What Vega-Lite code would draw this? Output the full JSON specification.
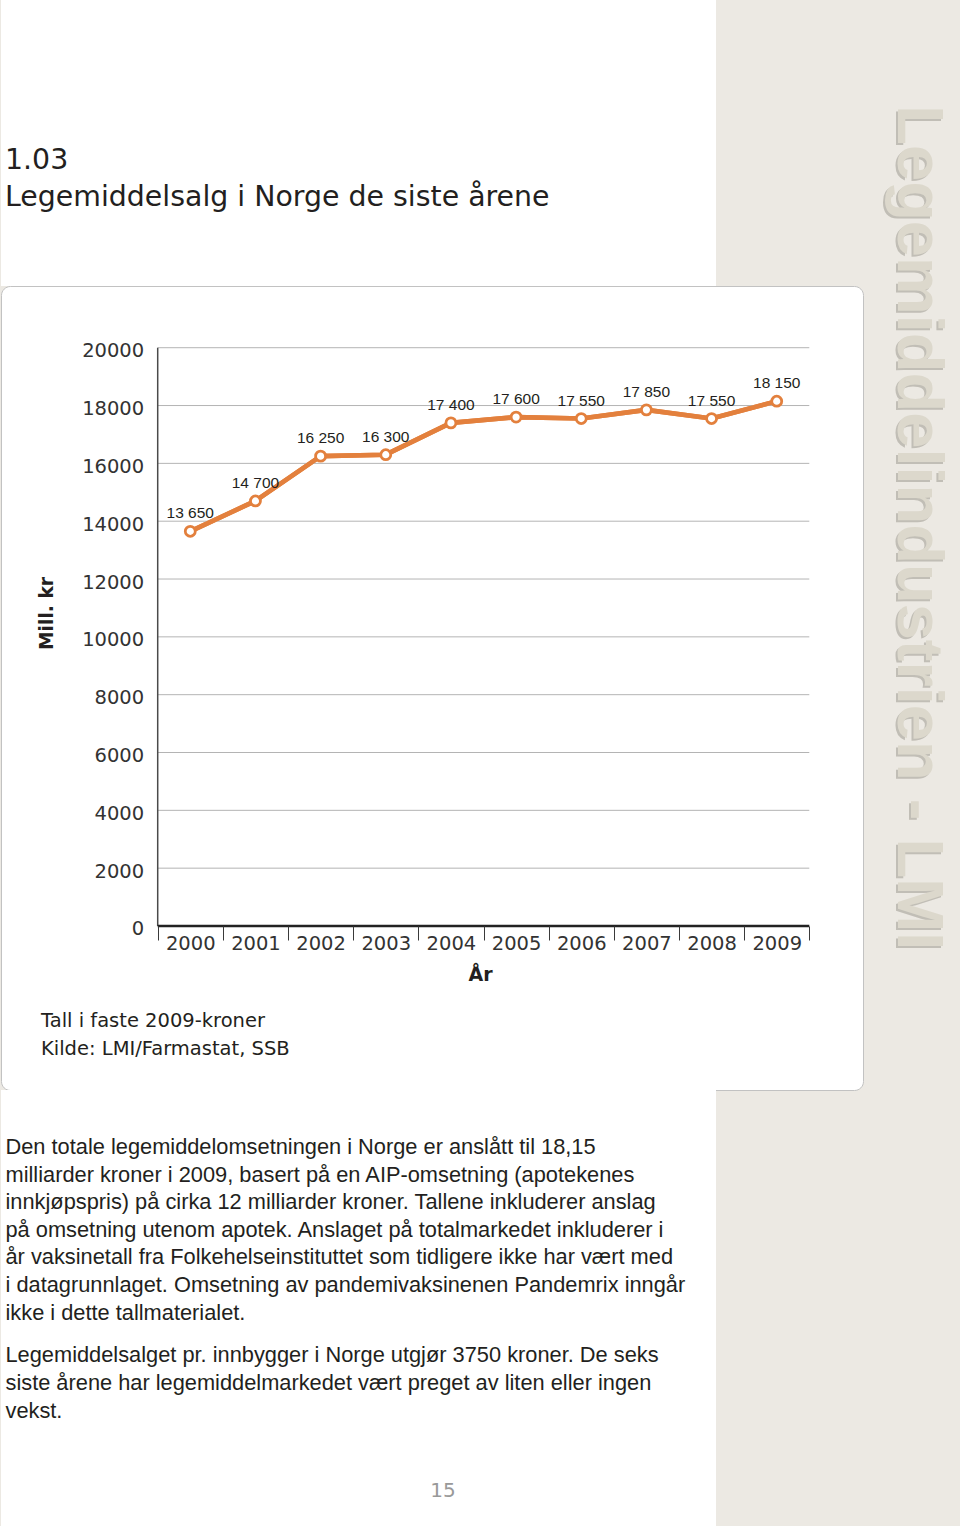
{
  "$schema": "https://vega.github.io/schema/vega-lite/v6.json",
  "background": "#ece9e3",
  "padding": {"left": 0, "top": 0, "right": 10, "bottom": 0},
  "spacing": 0,
  "bounds": "flush",
  "config": {"view": {"stroke": null}, "font": "DejaVu Sans"},
  "vconcat": [
    {
      "width": 715,
      "height": 286,
      "view": {"fill": "#ffffff", "stroke": null},
      "data": {"values": []},
      "mark": "point",
      "title": {
        "text": ["1.03", "Legemiddelsalg i Norge de siste årene"],
        "orient": "bottom", "anchor": "start", "frame": "group",
        "offset": -117, "dx": 4,
        "font": "DejaVu Sans", "fontSize": 28.4, "fontWeight": "normal",
        "color": "#231f20", "lineHeight": 37, "baseline": "alphabetic"
      }
    },
    {
      "width": 862,
      "height": 804,
      "view": {"fill": "#ffffff", "stroke": "#c2c2c2", "strokeWidth": 1, "cornerRadius": 9},
      "title": {
        "text": ["Tall i faste 2009-kroner", "Kilde: LMI/Farmastat, SSB"],
        "orient": "bottom", "anchor": "start", "frame": "group",
        "offset": -62.7, "dx": 40,
        "font": "DejaVu Sans", "fontSize": 19.5, "fontWeight": "normal",
        "color": "#231f20", "lineHeight": 27.7, "baseline": "alphabetic"
      },
      "data": {
        "values": [
          {"year": "2000", "value": 13650, "label": "13 650"},
          {"year": "2001", "value": 14700, "label": "14 700"},
          {"year": "2002", "value": 16250, "label": "16 250"},
          {"year": "2003", "value": 16300, "label": "16 300"},
          {"year": "2004", "value": 17400, "label": "17 400"},
          {"year": "2005", "value": 17600, "label": "17 600"},
          {"year": "2006", "value": 17550, "label": "17 550"},
          {"year": "2007", "value": 17850, "label": "17 850"},
          {"year": "2008", "value": 17550, "label": "17 550"},
          {"year": "2009", "value": 18150, "label": "18 150"}
        ]
      },
      "layer": [
        {
          "mark": {"type": "line", "color": "#e3803d", "strokeWidth": 4.6, "strokeCap": "round", "strokeJoin": "round"},
          "encoding": {
            "x": {
              "field": "year", "type": "ordinal",
              "scale": {"type": "band", "domain": ["2000","2001","2002","2003","2004","2005","2006","2007","2008","2009"], "paddingInner": 0, "paddingOuter": 0, "range": [156.7, 808.3]},
              "axis": {
                "title": "År", "orient": "bottom", "offset": -164, "zindex": 2,
                "domain": false, "grid": false, "ticks": true, "tickBand": "extent",
                "tickSize": 14, "tickColor": "#3a3a3a", "tickWidth": 1,
                "labelFont": "DejaVu Sans", "labelFontSize": 19.5, "labelColor": "#333333",
                "labelAngle": 0, "labelPadding": -6, "labelBaseline": "top",
                "titleFont": "DejaVu Sans", "titleFontWeight": "bold", "titleFontSize": 19,
                "titleColor": "#231f20", "titleX": 479, "titleY": 54,
                "titleBaseline": "alphabetic", "titleAlign": "center"
              }
            },
            "y": {
              "field": "value", "type": "quantitative",
              "scale": {"domain": [-5672, 22134], "nice": false, "zero": false},
              "axis": {
                "title": "Mill. kr", "orient": "left", "offset": -156.7, "zindex": 2,
                "values": [0, 2000, 4000, 6000, 8000, 10000, 12000, 14000, 16000, 18000, 20000],
                "format": "d",
                "domain": false, "ticks": false, "grid": false,
                "labelFont": "DejaVu Sans", "labelFontSize": 19.5, "labelColor": "#333333",
                "labelPadding": 14, "labelBaseline": "middle", "labelOffset": 3,
                "titleFont": "DejaVu Sans", "titleFontWeight": "bold", "titleFontSize": 18.7,
                "titleColor": "#231f20", "titleAngle": -90, "titleX": -111.7, "titleY": 327,
                "titleAlign": "center", "titleBaseline": "middle"
              }
            }
          }
        },
        {
          "data": {"values": [{"t": "Legemiddelindustrien - LMI"}]},
          "mark": {"type": "text", "angle": 90, "align": "left", "baseline": "alphabetic",
                   "font": "Liberation Sans", "fontWeight": "bold", "fontSize": 65,
                   "fill": "#8f8b80", "opacity": 0.45, "dx": -580.7, "dy": -464},
          "encoding": {"text": {"field": "t"}}
        },
        {
          "data": {"values": [{"t": "Legemiddelindustrien - LMI"}]},
          "mark": {"type": "text", "angle": 90, "align": "left", "baseline": "alphabetic",
                   "font": "Liberation Sans", "fontWeight": "bold", "fontSize": 65,
                   "fill": "#dcd8cc", "dx": -582.7, "dy": -466},
          "encoding": {"text": {"field": "t"}}
        },
        {
          "data": {"values": [{"v": 2000}, {"v": 4000}, {"v": 6000}, {"v": 8000}, {"v": 10000}, {"v": 12000}, {"v": 14000}, {"v": 16000}, {"v": 18000}, {"v": 20000}]},
          "mark": {"type": "rule", "color": "#b4b4b4", "strokeWidth": 1},
          "encoding": {
            "x": {"datum": "2000", "type": "ordinal", "bandPosition": 0},
            "x2": {"datum": "2009", "bandPosition": 1},
            "y": {"field": "v", "type": "quantitative"}
          }
        },
        {
          "data": {"values": [{}]},
          "mark": {"type": "rule", "color": "#4a4a4a", "strokeWidth": 1.5},
          "encoding": {
            "x": {"datum": "2000", "type": "ordinal", "bandPosition": 0},
            "y": {"datum": 0, "type": "quantitative"},
            "y2": {"datum": 20000}
          }
        },
        {
          "data": {"values": [{}]},
          "mark": {"type": "rule", "color": "#222222", "strokeWidth": 2.6},
          "encoding": {
            "x": {"datum": "2000", "type": "ordinal", "bandPosition": 0},
            "x2": {"datum": "2009", "bandPosition": 1},
            "y": {"datum": 0, "type": "quantitative"}
          }
        },
        {
          "mark": {"type": "line", "color": "#e3803d", "strokeWidth": 4.6, "strokeCap": "round", "strokeJoin": "round"},
          "encoding": {
            "x": {"field": "year", "type": "ordinal"},
            "y": {"field": "value", "type": "quantitative"}
          }
        },
        {
          "mark": {"type": "point", "filled": true, "fill": "#ffffff", "stroke": "#e3803d", "strokeWidth": 2.8, "size": 100, "opacity": 1},
          "encoding": {
            "x": {"field": "year", "type": "ordinal"},
            "y": {"field": "value", "type": "quantitative"}
          }
        },
        {
          "mark": {"type": "text", "font": "Liberation Sans", "fontSize": 15.5, "color": "#231f20", "baseline": "middle", "align": "center", "dy": -18},
          "encoding": {
            "x": {"field": "year", "type": "ordinal"},
            "y": {"field": "value", "type": "quantitative"},
            "text": {"field": "label"}
          }
        }
      ]
    },
    {
      "width": 715,
      "height": 436,
      "view": {"fill": "#ffffff", "stroke": null},
      "title": {
        "text": [
          "Den totale legemiddelomsetningen i Norge er anslått til 18,15",
          "milliarder kroner i 2009, basert på en AIP-omsetning (apotekenes",
          "innkjøpspris) på cirka 12 milliarder kroner.  Tallene inkluderer anslag",
          "på omsetning utenom apotek. Anslaget på totalmarkedet inkluderer i",
          "år vaksinetall fra Folkehelseinstituttet som tidligere ikke har vært med",
          "i datagrunnlaget. Omsetning av pandemivaksinenen Pandemrix inngår",
          "ikke i dette tallmaterialet."
        ],
        "subtitle": [
          "Legemiddelsalget pr. innbygger i Norge utgjør 3750 kroner. De seks",
          "siste årene har legemiddelmarkedet vært preget av liten eller ingen",
          "vekst."
        ],
        "orient": "bottom", "anchor": "start", "frame": "group",
        "offset": -372, "dx": 4.5,
        "font": "Liberation Sans", "fontSize": 21.8, "fontWeight": "normal",
        "color": "#231f20", "lineHeight": 27.6, "baseline": "alphabetic",
        "subtitleFont": "Liberation Sans", "subtitleFontSize": 21.8, "subtitleFontWeight": "normal",
        "subtitleColor": "#231f20", "subtitleLineHeight": 27.8, "subtitlePadding": 21
      },
      "data": {"values": [{"t": "15"}]},
      "mark": {"type": "text", "font": "DejaVu Sans", "fontSize": 20, "color": "#999999", "align": "center", "baseline": "middle", "dx": 84.5, "dy": 183},
      "encoding": {"text": {"field": "t"}}
    }
  ]
}
